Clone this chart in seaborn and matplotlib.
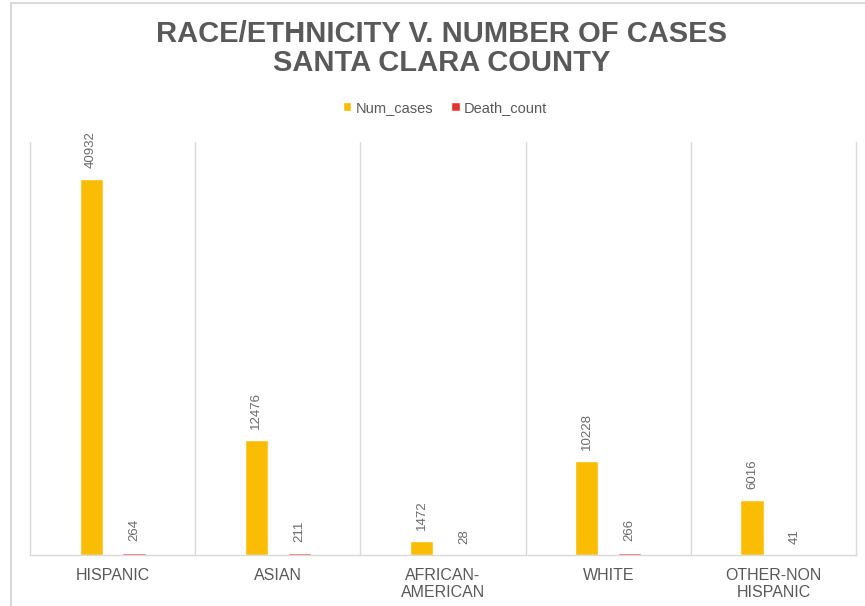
import matplotlib
matplotlib.use("Agg")
import matplotlib.pyplot as plt
import seaborn as sns
import pandas as pd

# datos
categorias = ["HISPANIC", "ASIAN", "AFRICAN-\nAMERICAN", "WHITE", "OTHER-NON\nHISPANIC"]
num_cases = [40932, 12476, 1472, 10228, 6016]
death_count = [264, 211, 28, 266, 41]
series = ["Num_cases", "Death_count"]
colores = ["#FBBC04", "#E3342F"]
titulo = ["RACE/ETHNICITY V. NUMBER OF CASES", "SANTA CLARA COUNTY"]

df = pd.DataFrame({
    "cat": categorias * 2,
    "serie": [series[0]] * len(categorias) + [series[1]] * len(categorias),
    "valor": num_cases + death_count,
})

sns.set_style("white")
plt.rcParams["font.family"] = ["Liberation Sans", "DejaVu Sans"]

gris = "#595959"
linea = "#D9D9D9"

fig = plt.figure(figsize=(8.65, 6.06), dpi=100)
ax = fig.add_axes([30 / 865, 51 / 606, 826 / 865, 413 / 606])

sns.barplot(data=df, x="cat", y="valor", hue="serie", palette=colores,
            width=0.52, gap=0.46, ax=ax, saturation=1)

# etiquetas de valor
for cont in ax.containers:
    ax.bar_label(cont, rotation=90, padding=8, color="#6b6b6b", fontsize=9.5)

ax.set_ylim(0, 45000)
ax.set_xlim(-0.5, len(categorias) - 0.5)
ax.set_xlabel("")
ax.set_ylabel("")
ax.set_yticks([])
ax.tick_params(axis="x", length=0, pad=9, labelsize=11.5, labelcolor=gris)
for lab in ax.get_xticklabels():
    lab.set_linespacing(1.2)

# lineas verticales entre categorias
for i in range(len(categorias) - 1):
    ax.axvline(i + 0.5, color=linea, lw=1, zorder=0)
ax.spines["top"].set_visible(False)
for s in ["left", "right", "bottom"]:
    ax.spines[s].set_color(linea)
    ax.spines[s].set_linewidth(1)

sns.move_legend(ax, "center", bbox_to_anchor=(415 / 826, (606 - 108 - 51) / 413),
                ncol=2, frameon=False, title=None, fontsize=10.5,
                handlelength=0.6, handleheight=0.6, handletextpad=0.3, columnspacing=1.2)
for t in ax.get_legend().get_texts():
    t.set_color(gris)

# titulo en dos lineas
fig.text(442 / 865, 1 - 34 / 606, titulo[0], ha="center", va="center",
         fontsize=21, fontweight="bold", color=gris)
fig.text(442 / 865, 1 - 63 / 606, titulo[1], ha="center", va="center",
         fontsize=21, fontweight="bold", color=gris)

# borde del grafico
fig.add_artist(plt.Line2D([11 / 865, 1], [1 - 3 / 606, 1 - 3 / 606], color=linea, lw=1.5))
fig.add_artist(plt.Line2D([11 / 865, 11 / 865], [0, 1 - 3 / 606], color=linea, lw=1.5))

fig.savefig("out.png", dpi=100)
